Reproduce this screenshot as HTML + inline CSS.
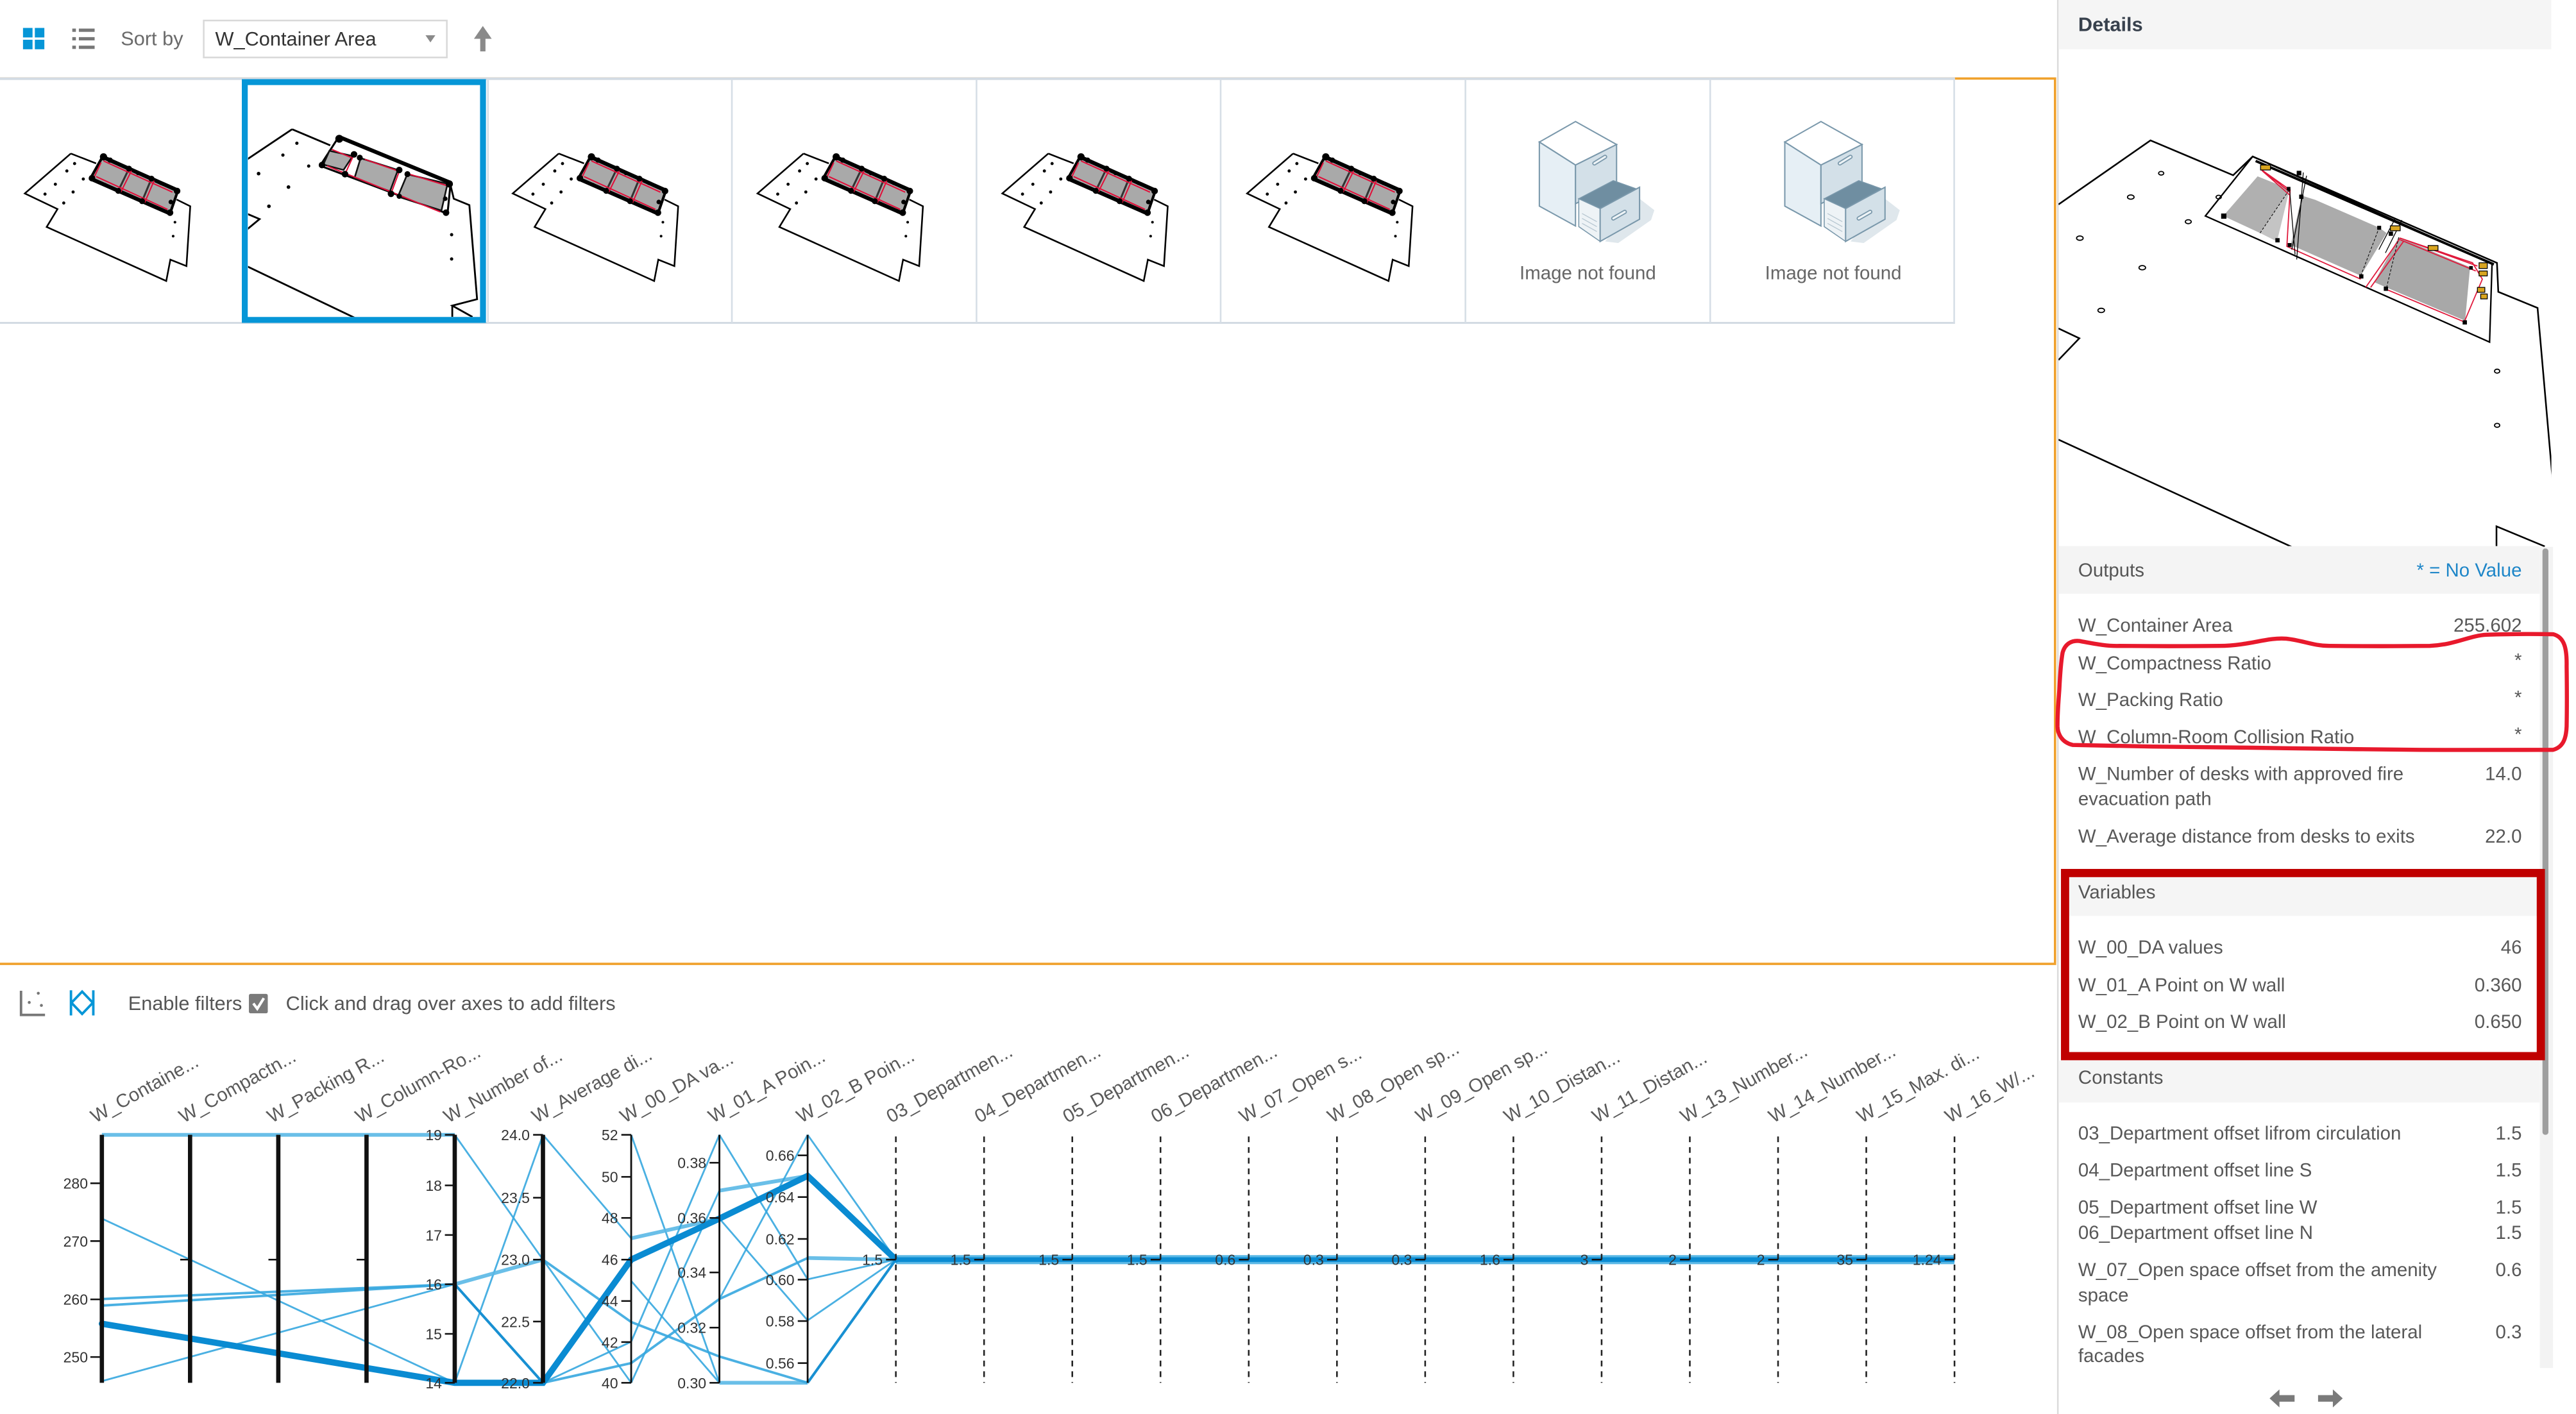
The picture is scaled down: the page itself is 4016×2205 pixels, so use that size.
<!DOCTYPE html>
<html>
<head>
<meta charset="utf-8">
<style>
  html,body{margin:0;padding:0;background:#fff;overflow:hidden;}
  #wrap{position:absolute;left:0;top:0;width:1568px;height:861px;transform:scale(2.56122,2.56098);transform-origin:0 0;}
  svg{position:absolute;left:0;top:0;}
  text{font-family:"Liberation Sans",sans-serif;}
  .row{font-size:11.5px;fill:#585858;}
  .val{font-size:11.5px;fill:#585858;text-anchor:end;}
  .hdr{font-size:11.5px;fill:#555;}
  .ax{font-size:11.5px;fill:#5a5a5a;}
  .tk{font-size:9px;fill:#333;text-anchor:end;}
  .l1{stroke:#36a7df;stroke-width:1.1;fill:none;opacity:.9}
  .l15{stroke:#36a7df;stroke-width:1.5;fill:none;opacity:.9}
  .l2{stroke:#5ab8e6;stroke-width:2.3;fill:none;opacity:.9}
  .md{stroke:#1890d2;stroke-width:1.6;fill:none}
  .sel{stroke:#0a8bd2;stroke-width:3.8;fill:none;stroke-linecap:round}
  .axk{stroke:#111;stroke-width:2.6}
  .axt{stroke:#111;stroke-width:1.1}
  .axd{stroke:#222;stroke-width:1;stroke-dasharray:3.5 3}
  .tm{stroke:#111;stroke-width:1}
</style>
</head>
<body>
<div id="wrap">
<svg width="1568" height="861" viewBox="0 0 1568 861">
  <defs>
    <g id="plan">
      <path d="M43.1,93.5 L15.1,117.8 L35,127.3 L28.4,138.2 L101.2,171.1 L103.7,158.1 L113.5,162 L115.8,125.6 L107.5,121.5 M43.1,93.5 L58.5,99.5" fill="none" stroke="#000" stroke-width="1"/>
      <polygon points="62.4,95.5 108.3,116 103.5,130 55,108.7" fill="#a9a9a9" stroke="#000" stroke-width="1.6"/>
      <path d="M62.4,95.5 L108.3,116 M55,108.7 L103.5,130" stroke="#000" stroke-width="2.4" fill="none"/>
      <path d="M78.5,102.7 L72,116.2 M92.2,108.8 L86.5,122.5" stroke="#333" stroke-width="1.2" fill="none"/>
      <path d="M58.5,107.5 L102,127.5 M61.5,99 L57.5,107.5 M63,98 L105,117 M80,104 L73.5,117 M93.8,110 L88,123.5" stroke="#e0103a" stroke-width="0.8" fill="none"/>
      <g fill="#000">
        <circle cx="63" cy="95.5" r="2.2"/><circle cx="56" cy="108.5" r="2"/><circle cx="67" cy="97.5" r="1.6"/>
        <circle cx="78.5" cy="102.7" r="1.8"/><circle cx="72" cy="116.2" r="1.8"/>
        <circle cx="92.2" cy="108.8" r="1.8"/><circle cx="86.5" cy="122.5" r="1.8"/>
        <circle cx="107.8" cy="116.3" r="2"/><circle cx="103.5" cy="129.5" r="2"/><circle cx="104" cy="123" r="1.4"/>
        <circle cx="84" cy="105.5" r="1.2"/><circle cx="98" cy="111.5" r="1.2"/><circle cx="64" cy="112.5" r="1.1"/>
        <circle cx="45.4" cy="99.6" r="0.95"/><circle cx="40.7" cy="104.1" r="0.95"/><circle cx="50.7" cy="109" r="0.95"/>
        <circle cx="33.7" cy="112.2" r="0.95"/><circle cx="27.4" cy="118.2" r="0.95"/><circle cx="44.5" cy="116.9" r="0.95"/>
        <circle cx="38.8" cy="123.6" r="0.95"/><circle cx="106.5" cy="135.3" r="0.8"/><circle cx="105.4" cy="143.8" r="0.8"/>
      </g>
    </g>
    <g id="cab">
      <polygon points="998,121 1007,128 1005,134 985,148 977,147" fill="#dfe7ec"/>
      <polygon points="959,74 984,88 959,100.5 937,86.5" fill="#ffffff" stroke="#7a98ab" stroke-width="0.8"/>
      <polygon points="937,86.5 959,100.5 959,137.6 937,125.5" fill="#e6eff5" stroke="#7a98ab" stroke-width="0.8"/>
      <polygon points="959,100.5 984,88 984,112 959,124" fill="#d3e0e8" stroke="#7a98ab" stroke-width="0.8"/>
      <line x1="970.5" y1="99.5" x2="977" y2="95.5" stroke="#7a98ab" stroke-width="2.6" stroke-linecap="round"/>
      <line x1="970.5" y1="99.5" x2="977" y2="95.5" stroke="#eef4f7" stroke-width="1.2" stroke-linecap="round"/>
      <polygon points="961,121 982,110 996,115 974,127" fill="#6f8ea1" stroke="#7a98ab" stroke-width="0.6"/>
      <polygon points="961,121 974,127 974,147 961,138" fill="#eef3f6" stroke="#7a98ab" stroke-width="0.6"/>
      <path d="M963,130 L972,135 M963,133 L972,138 M963,136 L972,141" stroke="#b7c7d1" stroke-width="0.5"/>
      <polygon points="974,127 998,114 998,133.5 974,147" fill="#d3e0e8" stroke="#7a98ab" stroke-width="0.8"/>
      <line x1="982" y1="133" x2="989" y2="129" stroke="#7a98ab" stroke-width="2.6" stroke-linecap="round"/>
      <line x1="982" y1="133" x2="989" y2="129" stroke="#eef4f7" stroke-width="1.2" stroke-linecap="round"/>
    </g>
    <clipPath id="selclip"><rect x="151" y="52" width="141" height="141"/></clipPath>
    <clipPath id="detclip"><rect x="1253" y="30" width="300" height="303"/></clipPath>
  </defs>

  <!-- Toolbar -->
  <g fill="#0696d7">
    <rect x="14" y="17" width="5.8" height="5.8"/><rect x="21.2" y="17" width="5.8" height="5.8"/>
    <rect x="14" y="24.2" width="5.8" height="5.8"/><rect x="21.2" y="24.2" width="5.8" height="5.8"/>
  </g>
  <g fill="#777">
    <rect x="44" y="17.4" width="2.2" height="2"/><rect x="48" y="17.4" width="9.6" height="2"/>
    <rect x="44" y="22.6" width="2.2" height="2"/><rect x="48" y="22.6" width="9.6" height="2"/>
    <rect x="44" y="27.8" width="2.2" height="2"/><rect x="48" y="27.8" width="9.6" height="2"/>
  </g>
  <text x="73.5" y="27.5" font-size="12" fill="#6a6a6a">Sort by</text>
  <rect x="124" y="12.5" width="148" height="22.5" fill="#fff" stroke="#d9d9d9" stroke-width="1"/>
  <text x="131" y="27.8" font-size="12" fill="#333">W_Container Area</text>
  <polygon points="259,21.5 265,21.5 262,25.8" fill="#8a8a8a"/>
  <polygon points="288.5,23.6 293.9,15.8 299.3,23.6" fill="#8a8a8a"/>
  <rect x="292.3" y="23" width="3.2" height="8.3" fill="#8a8a8a"/>

  <!-- Gallery frame (orange) -->
  <path d="M0,47.8 H1250.9 V586.9 H0" fill="none" stroke="#f0a12c" stroke-width="1.4"/>

  <!-- Thumbnails -->
  <line x1="0" y1="47.9" x2="1190" y2="47.9" stroke="#d3dbe3" stroke-width="1.6"/>
  <line x1="0" y1="196.6" x2="1190" y2="196.6" stroke="#d3dbe3" stroke-width="1.2"/>
  <g stroke="#d6dee6" stroke-width="1">
    <line x1="148" y1="48" x2="148" y2="196.5"/><line x1="297" y1="48" x2="297" y2="196.5"/>
    <line x1="445.5" y1="48" x2="445.5" y2="196.5"/><line x1="594.4" y1="48" x2="594.4" y2="196.5"/>
    <line x1="743" y1="48" x2="743" y2="196.5"/><line x1="892" y1="48" x2="892" y2="196.5"/>
    <line x1="1041" y1="48" x2="1041" y2="196.5"/><line x1="1189.5" y1="48" x2="1189.5" y2="196.5"/>
  </g>
  <use href="#plan"/>
  <use href="#plan" x="297"/>
  <use href="#plan" x="446"/>
  <use href="#plan" x="595"/>
  <use href="#plan" x="744"/>

  <!-- Selected thumbnail drawing -->
  <g clip-path="url(#selclip)">
    <path d="M177.8,78.7 L140,104 M177.8,78.7 L201,88.5 M274.3,113 L276.2,121 L285.7,124.9 L290.4,182.2 L275.3,186.1 L287.6,193 M275.3,186.1 L275.3,193 M150,130 L158,133.4 L150,140 M148,161 L219,195" fill="none" stroke="#000" stroke-width="1.1"/>
    <polygon points="206.2,83.3 274.3,111.3 272.4,130.1 194.9,100.9" fill="#fff" stroke="#000" stroke-width="1.2"/>
    <path d="M206.2,83.3 L274.3,111.3" stroke="#000" stroke-width="2.4"/>
    <polygon points="200.5,91.8 214.7,95 209.1,103.5 196.8,100.2" fill="#aaa" stroke="#111" stroke-width="1"/>
    <polygon points="219.5,96.3 242.2,103.5 237.4,116.5 215.7,108.7" fill="#aaa" stroke="#111" stroke-width="1"/>
    <polygon points="247.9,106.1 272.4,111.9 268.7,128.2 242.2,119.7" fill="#aaa" stroke="#111" stroke-width="1"/>
    <path d="M215.5,94 L210,106 M243.5,103 L238,118 M199,101 L268,129 M202,91 L214,96 M222,97 L242,104 M249,106 L272,113" stroke="#e0103a" stroke-width="0.8" fill="none"/>
    <g fill="#000">
      <circle cx="206.5" cy="84.5" r="2.4"/><circle cx="196" cy="100.5" r="2"/><circle cx="215.5" cy="94" r="2"/>
      <circle cx="219" cy="96" r="1.8"/><circle cx="210" cy="106" r="2"/><circle cx="243" cy="103.5" r="2"/>
      <circle cx="238" cy="118" r="2"/><circle cx="248" cy="106" r="1.8"/><circle cx="243" cy="119.5" r="1.6"/>
      <circle cx="273.5" cy="112" r="2.2"/><circle cx="271.5" cy="129.5" r="2"/><circle cx="271" cy="121" r="1.4"/>
      <circle cx="180.7" cy="87.2" r="1"/><circle cx="172.2" cy="94.4" r="1"/><circle cx="187.9" cy="101.1" r="1"/>
      <circle cx="157.4" cy="105.7" r="1.1"/><circle cx="175.6" cy="113.9" r="1.1"/><circle cx="163.7" cy="125.6" r="1.1"/>
      <circle cx="274.9" cy="142.9" r="1"/><circle cx="274.9" cy="157.7" r="1"/>
    </g>
  </g>
  <rect x="149" y="50" width="145" height="144.8" fill="none" stroke="#0696d7" stroke-width="3.6"/>

  <!-- Image not found cabinets -->
  <use href="#cab"/>
  <use href="#cab" x="149.4"/>
  <text x="966.5" y="170" font-size="11.5" fill="#666" text-anchor="middle">Image not found</text>
  <text x="1115.9" y="170" font-size="11.5" fill="#666" text-anchor="middle">Image not found</text>

  <!-- Right panel -->
  <line x1="1252.6" y1="0" x2="1252.6" y2="861" stroke="#dcdcdc" stroke-width="1"/>
  <rect x="1253" y="0" width="300" height="30" fill="#f5f5f5"/>
  <text x="1265" y="19" font-size="12" font-weight="bold" fill="#38414d">Details</text>

  <g clip-path="url(#detclip)">
    <path d="M1253,124.5 L1309,85.5 L1359.3,106.7 L1371.2,95.3 L1519.9,160.1 L1520.7,177.7 L1544.6,187.5 L1554.2,297.4 M1253,200 L1265.7,206 L1253,219.2 M1253,267.7 L1396.7,333.8 M1519.6,334 L1519.6,320.5 L1549,332.7" fill="none" stroke="#000" stroke-width="1"/>
    <path d="M1373,98 L1518,161" stroke="#000" stroke-width="1.5"/>
    <polygon points="1342.4,131.5 1371.2,95.3 1516.9,160.8 1515.4,208.3" fill="none" stroke="#000" stroke-width="0.9"/>
    <polygon points="1353.3,131.5 1374.2,107.4 1393.7,115.2 1375.7,141.9" fill="#b0b0b0"/>
    <polygon points="1375.7,141.9 1393.7,115.2 1386,147" fill="#c4c4c4"/>
    <polygon points="1394.4,149.1 1401.1,119.1 1409.3,121.7 1448.2,138.6 1452.7,141.9 1437,167.9" fill="#ababab"/>
    <polygon points="1445.2,171.8 1460.1,144.5 1503.5,162.7 1500.5,195.3 1452.7,175.1" fill="#a8a8a8"/>
    <path d="M1376,103 L1394,115.7 L1392,150 L1437,170 M1376,103 L1394,117 M1377,104 L1394,119 M1440,175 L1461,145 L1505,160 L1511,170 L1500,196 L1452,176 M1461,145 L1508,162 M1461,146 L1507,165 M1443,175 L1463,147" fill="none" stroke="#e01a3c" stroke-width="0.7"/>
    <path d="M1393.7,115.7 L1397,155 M1404,107 L1395,152 M1402,105 L1398,158 M1458,133 L1448,152 M1462,134 L1452,154" stroke="#000" stroke-width="0.5" fill="none"/>
    <path d="M1375.7,141.9 L1393.7,115.2 M1437,167.9 L1448.2,138.6 M1452.7,175.1 L1460.1,144.5" stroke="#000" stroke-width="0.4" stroke-dasharray="1.5 1" fill="none"/>
    <g fill="#000">
      <rect x="1352" y="130" width="3.2" height="3.2"/><rect x="1385" y="145" width="2.6" height="2.6"/>
      <rect x="1392" y="113.8" width="2.2" height="2.2"/><rect x="1399.5" y="118.5" width="2.6" height="2.6"/>
      <rect x="1398" y="104" width="2.8" height="2.8"/><rect x="1447" y="137.5" width="2.4" height="2.4"/>
      <rect x="1436" y="167" width="2.6" height="2.6"/><rect x="1451" y="174.5" width="2.6" height="2.6"/>
      <rect x="1503" y="162" width="2.2" height="2.2"/><rect x="1499" y="195" width="2.6" height="2.6"/>
      <rect x="1454" y="141" width="2.6" height="2.6"/><rect x="1392.5" y="148" width="2.4" height="2.4"/>
    </g>
    <g fill="#d9a520" stroke="#000" stroke-width="0.5">
      <rect x="1376" y="100.5" width="6" height="3"/><rect x="1455" y="137.5" width="6" height="3"/>
      <rect x="1478" y="149.5" width="6" height="3"/><rect x="1509" y="160" width="5" height="3.5"/>
      <rect x="1509" y="165" width="5" height="3"/><rect x="1508" y="175" width="4.5" height="3"/>
      <rect x="1510" y="179" width="4" height="3"/>
    </g>
    <g fill="none" stroke="#000" stroke-width="0.7">
      <ellipse cx="1266" cy="145" rx="2" ry="1.3"/><ellipse cx="1297" cy="120" rx="2" ry="1.3"/>
      <ellipse cx="1315.5" cy="105.5" rx="1.6" ry="1.1"/><ellipse cx="1332" cy="135" rx="1.8" ry="1.2"/>
      <ellipse cx="1350.5" cy="120" rx="1.6" ry="1.1"/><ellipse cx="1304" cy="163" rx="2" ry="1.3"/>
      <ellipse cx="1279" cy="189" rx="2" ry="1.3"/><ellipse cx="1520" cy="226" rx="1.6" ry="1.2"/>
      <ellipse cx="1520" cy="259" rx="1.6" ry="1.2"/>
    </g>
  </g>

  <rect x="1546" y="333" width="8" height="500" fill="#f3f3f3"/>
  <rect x="1547.6" y="334" width="3.6" height="357" rx="1.6" fill="#9e9e9e"/>

  <!-- Outputs -->
  <rect x="1253" y="332.5" width="293" height="29" fill="#f4f4f4"/>
  <text class="hdr" x="1265" y="351">Outputs</text>
  <text x="1535" y="351" font-size="11.5" fill="#1e86c8" text-anchor="end">* = No Value</text>
  <text class="row" x="1265" y="384.7">W_Container Area</text><text class="val" x="1535" y="384.7">255.602</text>
  <text class="row" x="1265" y="407.6">W_Compactness Ratio</text><text class="val" x="1535" y="406">*</text>
  <text class="row" x="1265" y="430">W_Packing Ratio</text><text class="val" x="1535" y="428.5">*</text>
  <text class="row" x="1265" y="452.5">W_Column-Room Collision Ratio</text><text class="val" x="1535" y="451">*</text>
  <text class="row" x="1265" y="475">W_Number of desks with approved fire</text><text class="val" x="1535" y="475">14.0</text>
  <text class="row" x="1265" y="490.3">evacuation path</text>
  <text class="row" x="1265" y="513">W_Average distance from desks to exits</text><text class="val" x="1535" y="513">22.0</text>

  <!-- red hand-drawn loop -->
  <path d="M1265.7,390.3 C1275,392 1282,393.5 1290,393.3 C1310,393.5 1330,393.5 1351,393.3 C1370,393 1380,388 1391.6,388.9 C1402,390 1408,393.3 1418,393.3 C1440,393.5 1460,393.5 1479,393.3 C1495,392.5 1503,387 1513.6,386.5 C1530,386 1545,386 1554.2,386.2 C1561,388 1562.5,395 1562.3,405.6 C1562.5,420 1562.5,432 1562.3,442.4 C1562,450 1560,455 1554,456.6 C1530,456.8 1500,456.6 1473,456.6 C1445,456.5 1420,455.8 1391.6,455.6 C1365,455.2 1340,454.8 1310.4,454.6 C1290,454.3 1275,454 1261.6,453.6 C1255,452 1252.6,447 1252.4,442.4 C1252.3,435 1253,427 1253.5,419.9 C1254,410 1254.5,403 1255.5,397.4 C1257,392 1261,389.8 1265.7,390.3 Z" fill="none" stroke="#e8192c" stroke-width="2.5"/>

  <!-- Variables -->
  <rect x="1259.5" y="534.2" width="287.5" height="23.5" fill="#f5f5f5"/>
  <text class="hdr" x="1265" y="547">Variables</text>
  <text class="row" x="1265" y="580.7">W_00_DA values</text><text class="val" x="1535" y="580.7">46</text>
  <text class="row" x="1265" y="603.6">W_01_A Point on W wall</text><text class="val" x="1535" y="603.6">0.360</text>
  <text class="row" x="1265" y="626">W_02_B Point on W wall</text><text class="val" x="1535" y="626">0.650</text>
  <rect x="1257" y="531.6" width="289.6" height="111.5" fill="none" stroke="#c00000" stroke-width="5"/>

  <!-- Constants -->
  <rect x="1253" y="645.8" width="293" height="25.5" fill="#f5f5f5"/>
  <text class="hdr" x="1265" y="660">Constants</text>
  <text class="row" x="1265" y="693.8">03_Department offset lifrom circulation</text><text class="val" x="1535" y="693.8">1.5</text>
  <text class="row" x="1265" y="716.4">04_Department offset line S</text><text class="val" x="1535" y="716.4">1.5</text>
  <text class="row" x="1265" y="739">05_Department offset line W</text><text class="val" x="1535" y="739">1.5</text>
  <text class="row" x="1265" y="754.4">06_Department offset line N</text><text class="val" x="1535" y="754.4">1.5</text>
  <text class="row" x="1265" y="777">W_07_Open space offset from the amenity</text><text class="val" x="1535" y="777">0.6</text>
  <text class="row" x="1265" y="792.4">space</text>
  <text class="row" x="1265" y="815">W_08_Open space offset from the lateral</text><text class="val" x="1535" y="815">0.3</text>
  <text class="row" x="1265" y="829.4">facades</text>

  <!-- nav arrows -->
  <polygon points="1381.5,851.5 1387.5,846 1387.5,857" fill="#7a7a7a"/>
  <rect x="1387" y="849.5" width="9.7" height="4" fill="#7a7a7a"/>
  <polygon points="1426,851.5 1420,846 1420,857" fill="#7a7a7a"/>
  <rect x="1411" y="849.5" width="9.7" height="4" fill="#7a7a7a"/>

  <!-- Bottom toolbar -->
  <path d="M12.8,603.3 V618 H27.4" fill="none" stroke="#777" stroke-width="1.5"/>
  <g fill="#777"><circle cx="17.8" cy="610.4" r="0.9"/><circle cx="23.3" cy="604.8" r="0.9"/><circle cx="25.2" cy="612.2" r="0.9"/></g>
  <path d="M43.2,603 V618.3 M56.8,603 V618.3 M43.5,610.6 L50,603.8 L56.5,610.6 L50,617.4 Z" fill="none" stroke="#0696d7" stroke-width="1.5"/>
  <text x="78" y="615" font-size="12" fill="#555">Enable filters</text>
  <rect x="151.5" y="605.2" width="11.5" height="11.8" rx="1" fill="#7a7a7a"/>
  <path d="M154.2,611 L156.6,614.2 L160.6,607.8" fill="none" stroke="#fff" stroke-width="1.6"/>
  <text x="174" y="615" font-size="12" fill="#555">Click and drag over axes to add filters</text>

  <!-- Axis labels -->
  <g class="ax">
    <text transform="translate(58,684) rotate(-29)">W_Containe...</text>
    <text transform="translate(111.7,684) rotate(-29)">W_Compactn...</text>
    <text transform="translate(165.4,684) rotate(-29)">W_Packing R...</text>
    <text transform="translate(219.1,684) rotate(-29)">W_Column-Ro...</text>
    <text transform="translate(272.8,684) rotate(-29)">W_Number of...</text>
    <text transform="translate(326.5,684) rotate(-29)">W_Average di...</text>
    <text transform="translate(380.2,684) rotate(-29)">W_00_DA va...</text>
    <text transform="translate(433.9,684) rotate(-29)">W_01_A Poin...</text>
    <text transform="translate(487.6,684) rotate(-29)">W_02_B Poin...</text>
    <text transform="translate(542.3,684) rotate(-29)">03_Departmen...</text>
    <text transform="translate(596,684) rotate(-29)">04_Departmen...</text>
    <text transform="translate(649.7,684) rotate(-29)">05_Departmen...</text>
    <text transform="translate(703.4,684) rotate(-29)">06_Departmen...</text>
    <text transform="translate(757.1,684) rotate(-29)">W_07_Open s...</text>
    <text transform="translate(810.8,684) rotate(-29)">W_08_Open sp...</text>
    <text transform="translate(864.5,684) rotate(-29)">W_09_Open sp...</text>
    <text transform="translate(918.2,684) rotate(-29)">W_10_Distan...</text>
    <text transform="translate(971.9,684) rotate(-29)">W_11_Distan...</text>
    <text transform="translate(1025.6,684) rotate(-29)">W_13_Number...</text>
    <text transform="translate(1079.3,684) rotate(-29)">W_14_Number...</text>
    <text transform="translate(1133,684) rotate(-29)">W_15_Max. di...</text>
    <text transform="translate(1186.7,684) rotate(-29)">W_16_W/...</text>
  </g>

  <!-- Data lines -->
  <g>
    <line class="l2" x1="62" y1="691" x2="276.8" y2="691"/>
    <line class="l1" x1="62" y1="742" x2="276.8" y2="842"/>
    <line class="l15" x1="62" y1="791" x2="276.8" y2="782"/>
    <line class="l15" x1="62" y1="795" x2="276.8" y2="782"/>
    <line class="l1" x1="62" y1="841" x2="276.8" y2="782"/>

    <line class="l1" x1="276.8" y1="691" x2="330.5" y2="767"/>
    <line class="l1" x1="276.8" y1="842" x2="330.5" y2="691"/>
    <line class="l2" x1="276.8" y1="782" x2="330.5" y2="767"/>
    <line class="md" x1="276.8" y1="782" x2="330.5" y2="842"/>
    <line class="l2" x1="276.8" y1="842" x2="330.5" y2="842"/>

    <line class="l1" x1="330.5" y1="691" x2="384.2" y2="754"/>
    <line class="l1" x1="330.5" y1="767" x2="384.2" y2="842"/>
    <line class="l15" x1="330.5" y1="767" x2="384.2" y2="805"/>
    <line class="l1" x1="330.5" y1="842" x2="384.2" y2="817"/>
    <line class="l15" x1="330.5" y1="842" x2="384.2" y2="830"/>

    <line class="l1" x1="384.2" y1="691" x2="437.9" y2="842"/>
    <line class="l2" x1="384.2" y1="754" x2="437.9" y2="742"/>
    <line class="l1" x1="384.2" y1="780" x2="437.9" y2="842"/>
    <line class="l1" x1="384.2" y1="817" x2="437.9" y2="691"/>
    <line class="l1" x1="384.2" y1="842" x2="437.9" y2="725"/>
    <line class="l15" x1="384.2" y1="830" x2="437.9" y2="791"/>
    <line class="l15" x1="384.2" y1="805" x2="437.9" y2="826"/>

    <line class="l1" x1="437.9" y1="691" x2="491.6" y2="779"/>
    <line class="l2" x1="437.9" y1="725" x2="491.6" y2="716"/>
    <line class="l1" x1="437.9" y1="742" x2="491.6" y2="804"/>
    <line class="l1" x1="437.9" y1="791" x2="491.6" y2="691"/>
    <line class="l15" x1="437.9" y1="791" x2="491.6" y2="766"/>
    <line class="l2" x1="437.9" y1="842" x2="491.6" y2="842"/>
    <line class="l15" x1="437.9" y1="826" x2="491.6" y2="842"/>

    <line class="l1" x1="491.6" y1="691" x2="545.3" y2="767"/>
    <line class="l2" x1="491.6" y1="766" x2="545.3" y2="767"/>
    <line class="l1" x1="491.6" y1="779" x2="545.3" y2="767"/>
    <line class="l1" x1="491.6" y1="804" x2="545.3" y2="767"/>
    <line class="md" x1="491.6" y1="842" x2="545.3" y2="767"/>

    <line x1="545.3" y1="767" x2="1189.7" y2="767" stroke="#5ab8e6" stroke-width="5.5"/>
    <line x1="545.3" y1="767" x2="1189.7" y2="767" stroke="#0a8bd2" stroke-width="2.8"/>

    <polyline class="sel" points="62,806 276.8,842 330.5,842 384.2,767 437.9,742 491.6,716 545.3,767"/>
  </g>

  <!-- Axes -->
  <g>
    <line class="axk" x1="62" y1="691" x2="62" y2="842"/>
    <line class="axk" x1="115.7" y1="691" x2="115.7" y2="842"/>
    <line class="axk" x1="169.4" y1="691" x2="169.4" y2="842"/>
    <line class="axk" x1="223.1" y1="691" x2="223.1" y2="842"/>
    <line class="axk" x1="276.8" y1="691" x2="276.8" y2="842"/>
    <line class="axk" x1="330.5" y1="691" x2="330.5" y2="842"/>
    <line class="axt" x1="384.2" y1="691" x2="384.2" y2="842"/>
    <line class="axt" x1="437.9" y1="691" x2="437.9" y2="842"/>
    <line class="axt" x1="491.6" y1="691" x2="491.6" y2="842"/>
    <line class="axd" x1="545.3" y1="692" x2="545.3" y2="842"/>
    <line class="axd" x1="599" y1="692" x2="599" y2="842"/>
    <line class="axd" x1="652.7" y1="692" x2="652.7" y2="842"/>
    <line class="axd" x1="706.4" y1="692" x2="706.4" y2="842"/>
    <line class="axd" x1="760.1" y1="692" x2="760.1" y2="842"/>
    <line class="axd" x1="813.8" y1="692" x2="813.8" y2="842"/>
    <line class="axd" x1="867.5" y1="692" x2="867.5" y2="842"/>
    <line class="axd" x1="921.2" y1="692" x2="921.2" y2="842"/>
    <line class="axd" x1="974.9" y1="692" x2="974.9" y2="842"/>
    <line class="axd" x1="1028.6" y1="692" x2="1028.6" y2="842"/>
    <line class="axd" x1="1082.3" y1="692" x2="1082.3" y2="842"/>
    <line class="axd" x1="1136" y1="692" x2="1136" y2="842"/>
    <line class="axd" x1="1189.7" y1="692" x2="1189.7" y2="842"/>
  </g>

  <!-- Ticks -->
  <g class="tm">
    <line x1="55" y1="720.5" x2="62" y2="720.5"/><line x1="55" y1="755.7" x2="62" y2="755.7"/>
    <line x1="55" y1="791.2" x2="62" y2="791.2"/><line x1="55" y1="826.3" x2="62" y2="826.3"/>
    <line x1="109.7" y1="767" x2="115.7" y2="767"/><line x1="163.4" y1="767" x2="169.4" y2="767"/><line x1="217.1" y1="767" x2="223.1" y2="767"/>
    <line x1="270.8" y1="691" x2="276.8" y2="691"/><line x1="270.8" y1="721.8" x2="276.8" y2="721.8"/>
    <line x1="270.8" y1="752" x2="276.8" y2="752"/><line x1="270.8" y1="782" x2="276.8" y2="782"/>
    <line x1="270.8" y1="812.2" x2="276.8" y2="812.2"/><line x1="270.8" y1="842" x2="276.8" y2="842"/>
    <line x1="324.5" y1="691" x2="330.5" y2="691"/><line x1="324.5" y1="729.3" x2="330.5" y2="729.3"/>
    <line x1="324.5" y1="767" x2="330.5" y2="767"/><line x1="324.5" y1="804.7" x2="330.5" y2="804.7"/>
    <line x1="324.5" y1="842" x2="330.5" y2="842"/>
    <line x1="378.2" y1="691" x2="384.2" y2="691"/><line x1="378.2" y1="716.6" x2="384.2" y2="716.6"/>
    <line x1="378.2" y1="741.6" x2="384.2" y2="741.6"/><line x1="378.2" y1="767" x2="384.2" y2="767"/>
    <line x1="378.2" y1="792.2" x2="384.2" y2="792.2"/><line x1="378.2" y1="817.2" x2="384.2" y2="817.2"/>
    <line x1="378.2" y1="842" x2="384.2" y2="842"/>
    <line x1="431.9" y1="708" x2="437.9" y2="708"/><line x1="431.9" y1="741.6" x2="437.9" y2="741.6"/>
    <line x1="431.9" y1="774.8" x2="437.9" y2="774.8"/><line x1="431.9" y1="808.4" x2="437.9" y2="808.4"/>
    <line x1="431.9" y1="842" x2="437.9" y2="842"/>
    <line x1="485.6" y1="703.5" x2="491.6" y2="703.5"/><line x1="485.6" y1="728.9" x2="491.6" y2="728.9"/>
    <line x1="485.6" y1="754.4" x2="491.6" y2="754.4"/><line x1="485.6" y1="779.2" x2="491.6" y2="779.2"/>
    <line x1="485.6" y1="804.4" x2="491.6" y2="804.4"/><line x1="485.6" y1="830" x2="491.6" y2="830"/>
    <line x1="539.3" y1="767" x2="545.3" y2="767"/><line x1="593" y1="767" x2="599" y2="767"/>
    <line x1="646.7" y1="767" x2="652.7" y2="767"/><line x1="700.4" y1="767" x2="706.4" y2="767"/>
    <line x1="754.1" y1="767" x2="760.1" y2="767"/><line x1="807.8" y1="767" x2="813.8" y2="767"/>
    <line x1="861.5" y1="767" x2="867.5" y2="767"/><line x1="915.2" y1="767" x2="921.2" y2="767"/>
    <line x1="968.9" y1="767" x2="974.9" y2="767"/><line x1="1022.6" y1="767" x2="1028.6" y2="767"/>
    <line x1="1076.3" y1="767" x2="1082.3" y2="767"/><line x1="1130" y1="767" x2="1136" y2="767"/>
    <line x1="1183.7" y1="767" x2="1189.7" y2="767"/>
  </g>

  <!-- Tick labels -->
  <g class="tk">
    <text x="53.5" y="723.8">280</text><text x="53.5" y="759">270</text>
    <text x="53.5" y="794.5">260</text><text x="53.5" y="829.6">250</text>
    <text x="269" y="694.3">19</text><text x="269" y="725.1">18</text><text x="269" y="755.3">17</text>
    <text x="269" y="785.3">16</text><text x="269" y="815.5">15</text><text x="269" y="845.3">14</text>
    <text x="322.5" y="694.3">24.0</text><text x="322.5" y="732.6">23.5</text><text x="322.5" y="770.3">23.0</text>
    <text x="322.5" y="808">22.5</text><text x="322.5" y="845.3">22.0</text>
    <text x="376.2" y="694.3">52</text><text x="376.2" y="719.9">50</text><text x="376.2" y="744.9">48</text>
    <text x="376.2" y="770.3">46</text><text x="376.2" y="795.5">44</text><text x="376.2" y="820.5">42</text>
    <text x="376.2" y="845.3">40</text>
    <text x="429.9" y="711.3">0.38</text><text x="429.9" y="744.9">0.36</text><text x="429.9" y="778.1">0.34</text>
    <text x="429.9" y="811.7">0.32</text><text x="429.9" y="845.3">0.30</text>
    <text x="483.6" y="706.8">0.66</text><text x="483.6" y="732.2">0.64</text><text x="483.6" y="757.7">0.62</text>
    <text x="483.6" y="782.5">0.60</text><text x="483.6" y="807.7">0.58</text><text x="483.6" y="833.3">0.56</text>
    <text x="537.3" y="770.3">1.5</text><text x="591" y="770.3">1.5</text><text x="644.7" y="770.3">1.5</text>
    <text x="698.4" y="770.3">1.5</text><text x="752.1" y="770.3">0.6</text><text x="805.8" y="770.3">0.3</text>
    <text x="859.5" y="770.3">0.3</text><text x="913.2" y="770.3">1.6</text><text x="966.9" y="770.3">3</text>
    <text x="1020.6" y="770.3">2</text><text x="1074.3" y="770.3">2</text><text x="1128" y="770.3">35</text>
    <text x="1181.7" y="770.3">1.24</text>
  </g>
</svg>
</div>
</body>
</html>
